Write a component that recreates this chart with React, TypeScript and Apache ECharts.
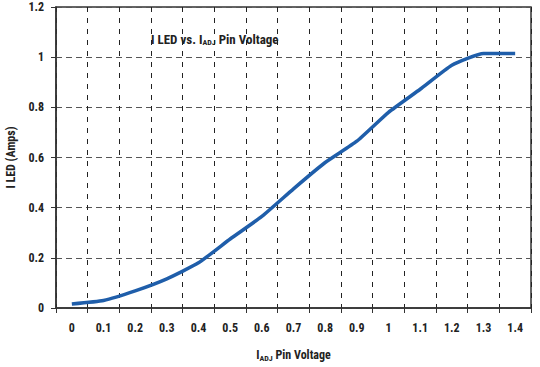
import React, { useEffect, useRef } from "react";
import * as echarts from "echarts";

const categories = ["0", "0.1", "0.2", "0.3", "0.4", "0.5", "0.6", "0.7", "0.8", "0.9", "1", "1.1", "1.2", "1.3", "1.4"];
const iLed = [0.016, 0.03, 0.068, 0.116, 0.18, 0.275, 0.365, 0.475, 0.58, 0.665, 0.78, 0.872, 0.968, 1.015, 1.015];
const yTicks = { min: 0, max: 1.2, interval: 0.2 };

const FONT = "'Liberation Sans Narrow', 'Arial Narrow', 'Roboto Condensed', sans-serif";

export default function App() {
  const ref = useRef<HTMLDivElement>(null);
  useEffect(() => {
    if (!ref.current) return;
    const chart = echarts.init(ref.current, null, { renderer: "svg" });
    chart.setOption({
      animation: false,
      backgroundColor: "#ffffff",
      textStyle: { fontFamily: FONT },
      title: {
        text: "{b|I LED vs. I}{s|ADJ}{b| Pin Voltage}",
        left: 146,
        top: 27,
        textStyle: {
          rich: {
            b: { fontFamily: FONT, fontWeight: "bold", fontSize: 13, color: "#222" },
            s: { fontFamily: FONT, fontWeight: "bold", fontSize: 8, color: "#222", verticalAlign: "bottom", padding: [6, 0, 0, 0] },
          },
        },
      },
      grid: {
        left: 56,
        right: 9,
        top: 7,
        bottom: 59,
        containLabel: false,
        outerBoundsMode: "none",
        show: true,
        borderColor: "#333",
        borderWidth: 1.5,
        backgroundColor: "transparent",
      },
      xAxis: {
        type: "category",
        data: categories,
        boundaryGap: true,
        name: "{b|I}{s|ADJ}{b| Pin Voltage}",
        nameLocation: "middle",
        nameGap: 40,
        nameTextStyle: {
          rich: {
            b: { fontFamily: FONT, fontWeight: "bold", fontSize: 12, color: "#222" },
            s: { fontFamily: FONT, fontWeight: "bold", fontSize: 8, color: "#222", verticalAlign: "bottom", padding: [6, 0, 0, 0] },
          },
        },
        axisLine: { show: true, lineStyle: { color: "#333", width: 1.5 } },
        axisTick: { show: true, interval: 0, length: 5, lineStyle: { color: "#333" } },
        axisLabel: { interval: 0, fontFamily: FONT, fontWeight: "bold", fontSize: 12, color: "#222", margin: 14 },
        splitLine: { show: true, interval: 0, lineStyle: { color: "#222", type: [5, 6], width: 1 } },
      },
      yAxis: {
        type: "value",
        min: yTicks.min,
        max: yTicks.max,
        interval: yTicks.interval,
        name: "I LED (Amps)",
        nameLocation: "middle",
        nameGap: 39,
        nameTextStyle: { fontFamily: FONT, fontWeight: "bold", fontSize: 12, color: "#222" },
        axisLine: { show: true, lineStyle: { color: "#333", width: 1.5 } },
        axisTick: { show: true, length: 5, inside: false, lineStyle: { color: "#333" } },
        axisLabel: {
          fontFamily: FONT,
          fontWeight: "bold",
          fontSize: 12,
          color: "#222",
          margin: 12,
          formatter: (v: number) => String(Math.round(v * 10) / 10),
        },
        splitLine: { show: true, lineStyle: { color: "#555", type: [6, 4], width: 1 } },
      },
      series: [
        {
          type: "line",
          data: iLed,
          symbol: "none",
          smooth: 0.15,
          lineStyle: { color: "#1f5eaa", width: 3.5 },
        },
      ],
    });
    return () => chart.dispose();
  }, []);
  return <div ref={ref} style={{ position: "fixed", left: 0, top: 0, width: 540, height: 367 }} />;
}
